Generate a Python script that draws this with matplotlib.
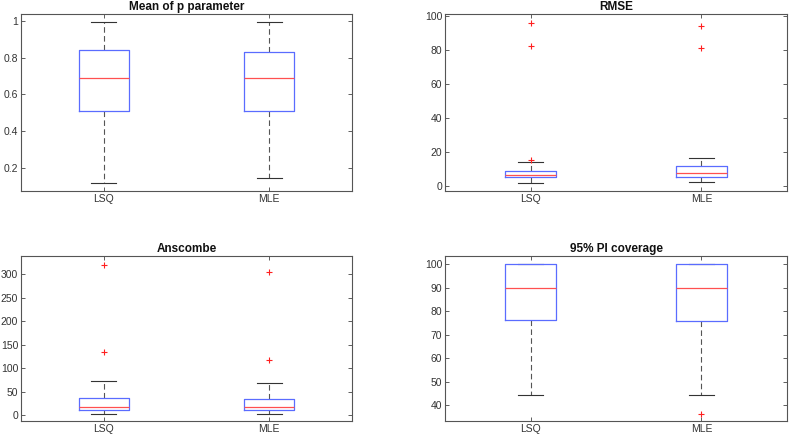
import matplotlib
matplotlib.use("Agg")
import matplotlib.pyplot as plt

plt.rcParams['font.family'] = ['Liberation Sans', 'DejaVu Sans']

groups = ['LSQ', 'MLE']
titles = ['Mean of p parameter', 'RMSE', 'Anscombe', '95% PI coverage']

# (whislo, q1, med, q3, whishi) per group
mean_p = [(0.12, 0.51, 0.69, 0.84, 0.99), (0.15, 0.51, 0.69, 0.83, 0.99)]
rmse = [(1.5, 5.0, 6.3, 8.7, 14.0), (2.0, 5.0, 7.3, 11.5, 16.5)]
anscombe = [(3, 11, 18, 37, 73), (2, 11, 17, 34, 68)]
coverage = [(44.5, 76.2, 90, 100, 100), (44.5, 75.8, 90, 100, 100)]

mean_p_out = [[], []]
rmse_out = [[15.5, 82, 96], [81, 94]]
anscombe_out = [[135, 320], [118, 305]]
coverage_out = [[], [36.5]]

ylims = [(0.077, 1.036), (-3, 101), (-12, 339), (33.4, 103.4)]
yticks = [[0.2, 0.4, 0.6, 0.8, 1.0], [0, 20, 40, 60, 80, 100],
          [0, 50, 100, 150, 200, 250, 300], [40, 50, 60, 70, 80, 90, 100]]
ytick_labels = [['0.2', '0.4', '0.6', '0.8', '1'], None, None, None]

all_stats = [mean_p, rmse, anscombe, coverage]
all_out = [mean_p_out, rmse_out, anscombe_out, coverage_out]

W, H = 789, 437
fig = plt.figure(figsize=(W / 100, H / 100), dpi=100)

# axes boxes in pixels: left, top, right, bottom
boxes = [(21, 14, 352, 191), (445, 14, 787, 191),
         (21, 256, 352, 421), (445, 256, 787, 421)]

for i, (l, t, r, b) in enumerate(boxes):
    ax = fig.add_axes([l / W, 1 - b / H, (r - l) / W, (b - t) / H])
    stats = []
    for g, s, fl in zip(groups, all_stats[i], all_out[i]):
        lo, q1, med, q3, hi = s
        stats.append(dict(label=g, whislo=lo, q1=q1, med=med, q3=q3,
                          whishi=hi, fliers=fl))
    ax.bxp(stats, positions=[1, 2], widths=0.3, capwidths=0.15,
           showfliers=True,
           boxprops=dict(color='#5a6cff', linewidth=0.9, zorder=3),
           medianprops=dict(color='#ff5050', linewidth=0.9, zorder=4),
           whiskerprops=dict(color='#555555', linewidth=0.8,
                             linestyle=(0, (5, 3))),
           capprops=dict(color='#333333', linewidth=0.8),
           flierprops=dict(marker='+', markeredgecolor='#ff2020',
                           markersize=5, markeredgewidth=0.8,
                           linestyle='none'))
    ax.set_xlim(0.5, 2.5)
    ax.set_ylim(*ylims[i])
    ax.set_yticks(yticks[i])
    if ytick_labels[i] is not None:
        ax.set_yticklabels(ytick_labels[i])
    ax.set_title(titles[i], fontsize=8.5, fontweight='bold', pad=3,
                 color='#111111')
    ax.tick_params(direction='in', top=True, right=True, length=3,
                   width=0.6, labelsize=7.5, labelcolor='#333333',
                   color='#444444', pad=2)
    for sp in ax.spines.values():
        sp.set_color('#555555')
        sp.set_linewidth(0.8)

fig.savefig('out.png', dpi=100)
